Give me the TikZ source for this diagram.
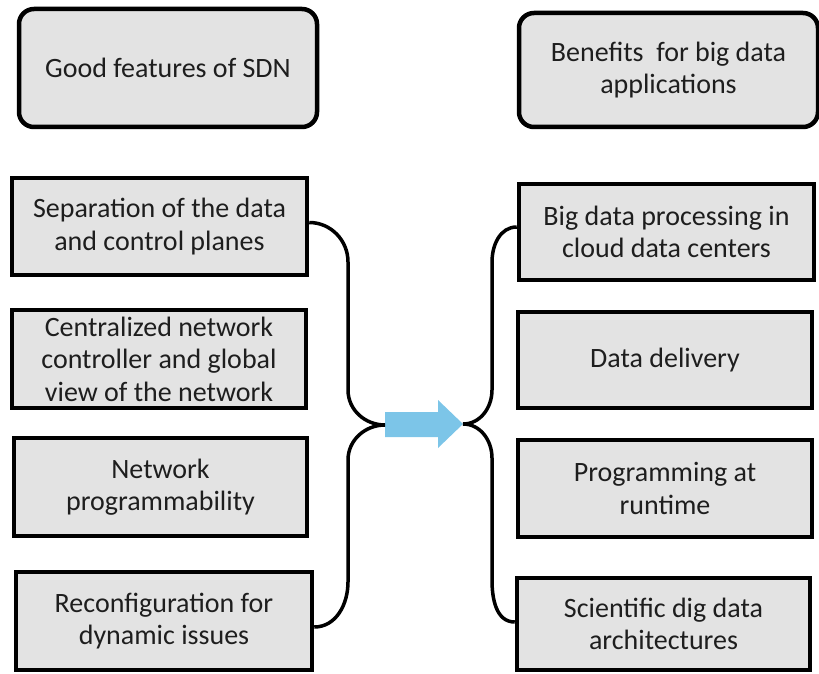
\documentclass[tikz,border=0pt]{standalone}
\usepackage{fontspec}
\setmainfont{Carlito}
\definecolor{boxgray}{RGB}{227,227,227}
\definecolor{arrowblue}{RGB}{124,197,232}
\definecolor{txt}{RGB}{30,30,30}
\begin{document}
\begin{tikzpicture}[x=1pt,y=-1pt,font=\fontsize{28pt}{32.5pt}\selectfont,
	head/.style={draw,line width=4.5pt,fill=boxgray,rounded corners=15pt,align=center,text=txt,inner sep=0pt},
	item/.style={draw,line width=4.5pt,fill=boxgray,align=center,text=txt,inner sep=0pt},
	brace/.style={line width=3.5pt}]
	\useasboundingbox (0,0) rectangle (819,674);
	%	headings
	\node[head,minimum width=298pt,minimum height=118pt] (good) at (168,68) {Good features of SDN};
	\node[head,minimum width=299pt,minimum height=114pt] (bene) at (668.5,70) {Benefits\ \ for big data\\applications};
	%	left column
	\node[item,minimum width=295pt,minimum height=97pt] (L1) at (159.5,226.5) {Separation of the data\\and control planes};
	\node[item,minimum width=294pt,minimum height=98pt] (L2) at (159,359) {Centralized network\\controller and global\\view of the network};
	\node[item,minimum width=293pt,minimum height=98pt] (L3) at (160.5,487) {Network\\programmability};
	\node[item,minimum width=296pt,minimum height=98pt] (L4) at (164,621) {Reconfiguration for\\dynamic issues};
	%	right column
	\node[item,minimum width=295pt,minimum height=96pt] (R1) at (666.5,232) {Big data processing in\\cloud data centers};
	\node[item,minimum width=294pt,minimum height=96pt] (R2) at (665,360) {Data delivery};
	\node[item,minimum width=294pt,minimum height=97pt] (R3) at (665,488.5) {Programming at\\runtime};
	\node[item,minimum width=293pt,minimum height=92pt] (R4) at (663.5,624) {Scientific dig data\\architectures};
	\path
	(385,425) coordinate (ltip)
	(463,424) coordinate (rtip)
	;
	%	arrow
	\fill[arrowblue] (ltip) ++(0,-13) -- ++(53,0) -- ++(0,-12) -- (rtip) -- ++(-25,24) -- ++(0,-11) -- ++(-53,0) -- cycle;
	%	braces
	\draw[brace] ([yshift=4pt]L1.east) to[out=0,in=90] (348,262) -- (348,390) to[out=-90,in=180] (ltip)
		to[out=180,in=90] (348,460) -- (348,582) to[out=-90,in=0] ([yshift=-6pt]L4.east);
	\draw[brace] ([yshift=5pt]R1.west) to[out=180,in=90] (492,262) -- (492,390) to[out=-90,in=0] (rtip)
		to[out=0,in=90] (492,458) -- (492,580) to[out=-90,in=180] ([yshift=2pt]R4.west);
\end{tikzpicture}
\end{document}
